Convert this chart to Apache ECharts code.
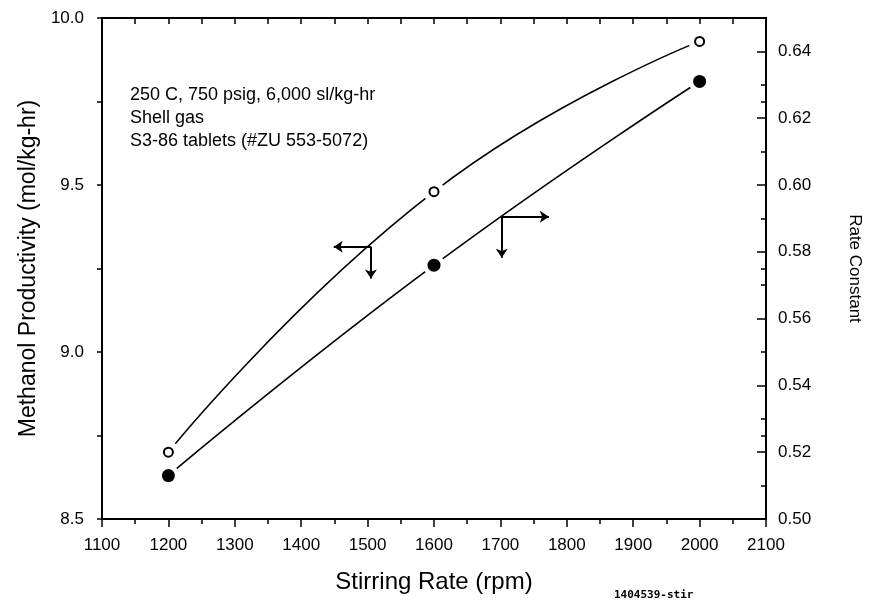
<!DOCTYPE html>
<html>
<head>
<meta charset="utf-8">
<script src="https://cdn.jsdelivr.net/npm/echarts@6/dist/echarts.min.js"></script>
<style>
html,body{margin:0;padding:0;background:#fff;}
#chart{width:870px;height:601px;}
</style>
</head>
<body>
<div id="chart"></div>
<script>
// ---- data ----
const stirringRate = [1200, 1600, 2000];           // rpm
const productivity = [8.70, 9.48, 9.93];           // mol/kg-hr (open circles, left axis)
const rateConstant = [0.513, 0.576, 0.631];        // rate constant (filled circles, right axis)
const annotationLines = ['250 C, 750 psig, 6,000 sl/kg-hr', 'Shell gas', 'S3-86 tablets (#ZU 553-5072)'];
const xTitle = 'Stirring Rate (rpm)';
const leftTitle = 'Methanol Productivity (mol/kg-hr)';
const rightTitle = 'Rate Constant';
const figureId = '1404539-stir';
// arrow annotations (data coordinates)
const leftArrowCorner = [1505, 9.315], leftArrowEndX = 1449, leftArrowEndY = 9.22;
const rightArrowCorner = [1702, 0.5905], rightArrowEndX = 1773, rightArrowEndY = 0.5782;

const FONT = "'Liberation Sans', Arial, Helvetica, sans-serif";
const black = '#000';

const zip = (a, b) => a.map((v, i) => [v, b[i]]);

const chart = echarts.init(document.getElementById('chart'), null, {renderer: 'canvas'});

const arrowLine = {
  silent: true,
  symbol: ['none', 'arrow'],
  symbolSize: 9,
  label: {show: false},
  lineStyle: {color: black, width: 2, type: 'solid'},
  emphasis: {disabled: true},
  animation: false
};

const option = {
  animation: false,
  backgroundColor: '#fff',
  textStyle: {fontFamily: FONT, color: black},
  grid: {left: 102, right: 104, top: 18, bottom: 82, containLabel: false, outerBoundsMode: 'none'},
  xAxis: [
    {
      type: 'value', position: 'bottom', min: 1100, max: 2100, interval: 100,
      name: xTitle, nameLocation: 'middle', nameGap: 51,
      nameTextStyle: {fontSize: 24, color: black, fontFamily: FONT},
      axisLine: {show: true, onZero: false, lineStyle: {color: black, width: 2}},
      axisTick: {show: true, inside: false, length: 8, lineStyle: {color: black, width: 1.5}},
      minorTick: {show: true, splitNumber: 2, length: 5, lineStyle: {color: black, width: 1.5}},
      axisLabel: {show: true, margin: 18, fontSize: 17, color: black, fontFamily: FONT,
                  formatter: v => String(v)},
      splitLine: {show: false}
    },
    {
      type: 'value', position: 'top', min: 1100, max: 2100, interval: 50,
      axisLine: {show: true, onZero: false, lineStyle: {color: black, width: 2}},
      axisTick: {show: true, inside: true, length: 6, lineStyle: {color: black, width: 1.5}},
      axisLabel: {show: false},
      splitLine: {show: false}
    }
  ],
  yAxis: [
    {
      type: 'value', position: 'left', min: 8.5, max: 10, interval: 0.5,
      name: leftTitle, nameLocation: 'middle', nameGap: 50,
      nameTextStyle: {fontSize: 23, color: black, fontFamily: FONT},
      axisLine: {show: true, onZero: false, lineStyle: {color: black, width: 2}},
      axisTick: {show: true, inside: false, length: 5, lineStyle: {color: black, width: 1.5}},
      minorTick: {show: true, splitNumber: 2, length: 5, lineStyle: {color: black, width: 1.5}},
      axisLabel: {show: true, margin: 18, fontSize: 17, color: black, fontFamily: FONT,
                  formatter: v => v.toFixed(1)},
      splitLine: {show: false}
    },
    {
      type: 'value', position: 'right', min: 0.50, max: 0.65, interval: 0.02,
      name: rightTitle, nameLocation: 'middle', nameRotate: -90, nameGap: 80,
      nameTextStyle: {fontSize: 17, color: black, fontFamily: FONT},
      axisLine: {show: true, onZero: false, lineStyle: {color: black, width: 2}},
      axisTick: {show: true, inside: true, length: 9, lineStyle: {color: black, width: 1.5}},
      axisLabel: {show: true, margin: 12, fontSize: 17, color: black, fontFamily: FONT,
                  showMaxLabel: false, formatter: v => v.toFixed(2)},
      splitLine: {show: false}
    },
    {
      type: 'value', position: 'right', min: 8.5, max: 10, interval: 0.25,
      axisLine: {show: false},
      axisTick: {show: true, inside: true, length: 5, lineStyle: {color: black, width: 1.5}},
      axisLabel: {show: false},
      splitLine: {show: false}
    },
    {
      type: 'value', position: 'right', min: 0.50, max: 0.65, interval: 0.01,
      axisLine: {show: false},
      axisTick: {show: true, inside: true, length: 5, lineStyle: {color: black, width: 1.5}},
      axisLabel: {show: false},
      splitLine: {show: false}
    }
  ],
  graphic: [
    {
      type: 'text', left: 130, top: 84, silent: true,
      style: {text: annotationLines.join('\n'), font: '18px ' + FONT, fill: black, lineHeight: 23}
    },
    {
      type: 'text', left: 614, top: 590, silent: true,
      style: {text: figureId, font: "bold 11px 'DejaVu Sans Mono', monospace", fill: black}
    }
  ],
  series: [
    {
      type: 'line', name: 'Methanol Productivity', xAxisIndex: 0, yAxisIndex: 0,
      data: zip(stirringRate, productivity), smooth: 0.5, showSymbol: false, z: 2,
      lineStyle: {color: black, width: 1.6},
      markLine: Object.assign({}, arrowLine, {data: [
        [{coord: leftArrowCorner}, {coord: [leftArrowEndX, leftArrowCorner[1]]}],
        [{coord: leftArrowCorner}, {coord: [leftArrowCorner[0], leftArrowEndY]}]
      ]})
    },
    {
      type: 'line', name: 'Rate Constant', xAxisIndex: 0, yAxisIndex: 1,
      data: zip(stirringRate, rateConstant), smooth: 0.5, showSymbol: false, z: 2,
      lineStyle: {color: black, width: 1.6},
      markLine: Object.assign({}, arrowLine, {data: [
        [{coord: rightArrowCorner}, {coord: [rightArrowEndX, rightArrowCorner[1]]}],
        [{coord: rightArrowCorner}, {coord: [rightArrowCorner[0], rightArrowEndY]}]
      ]})
    },
    // white halos that break the curves around markers
    {
      type: 'scatter', xAxisIndex: 0, yAxisIndex: 0, data: zip(stirringRate, productivity),
      symbol: 'circle', symbolSize: 22, z: 3, silent: true,
      itemStyle: {color: '#fff', opacity: 1}
    },
    {
      type: 'scatter', xAxisIndex: 0, yAxisIndex: 1, data: zip(stirringRate, rateConstant),
      symbol: 'circle', symbolSize: 22, z: 3, silent: true,
      itemStyle: {color: '#fff', opacity: 1}
    },
    // markers
    {
      type: 'scatter', xAxisIndex: 0, yAxisIndex: 0, data: zip(stirringRate, productivity),
      symbol: 'circle', symbolSize: 9, z: 4,
      itemStyle: {color: '#fff', borderColor: black, borderWidth: 2, opacity: 1}
    },
    {
      type: 'scatter', xAxisIndex: 0, yAxisIndex: 1, data: zip(stirringRate, rateConstant),
      symbol: 'circle', symbolSize: 13, z: 4,
      itemStyle: {color: black, opacity: 1}
    }
  ]
};
chart.setOption(option);
</script>
</body>
</html>
